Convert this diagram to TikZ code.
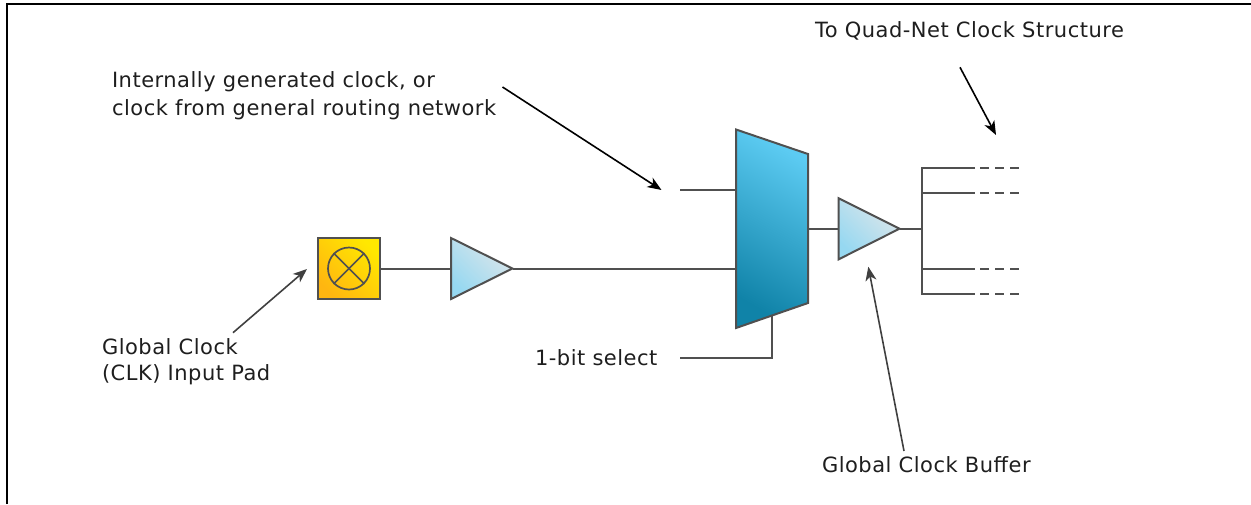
\documentclass[tikz,border=0pt]{standalone}
\usepackage{fontspec}
\setmainfont[LetterSpace=2.4]{DejaVu Sans}
\usetikzlibrary{arrows.meta}
\definecolor{wire}{HTML}{505050}
\definecolor{ink}{HTML}{1E1E1E}
\definecolor{padA}{HTML}{FFB610}
\definecolor{padB}{HTML}{FFE800}
\definecolor{bufA}{HTML}{96D8F1}
\definecolor{bufB}{HTML}{DDE6EA}
\definecolor{muxA}{HTML}{5CCBF2}
\definecolor{muxB}{HTML}{1083A8}
\tikzset{
  x=1pt,y=-1pt,
  wireline/.style={draw=wire,line width=2pt},
  shapeline/.style={draw=wire,line width=2pt,line join=miter},
  stub/.style={draw=wire,line width=2pt,dash pattern=on 9pt off 6pt},
  leader/.style={draw=black,line width=1.6pt,-{Stealth[length=14pt,width=11pt,inset=4pt]}},
  leadergray/.style={draw=wire!80!black,line width=1.6pt,-{Stealth[length=14pt,width=11pt,inset=4pt]}},
  lbl/.style={anchor=base west,inner sep=0pt,outer sep=0pt,text=ink,font=\fontsize{21pt}{26pt}\selectfont},
  bufshade/.style={shade,left color=bufA,right color=bufB,shading angle=135},
  padbox/.style={rectangle,minimum width=62pt,minimum height=61pt,inner sep=0pt,outer sep=0pt,draw=wire,line width=2pt,
    left color=padA,right color=padB,shading angle=135},
}
\begin{document}
\begin{tikzpicture}
\useasboundingbox (0,0) rectangle (1251,504);
% frame
\draw[black,line width=2.2pt] (7,504) -- (7,4) -- (1251,4);
% coordinates
\coordinate (padC) at (349,268.5);
\coordinate (b1L) at (451,268.5);
\coordinate (b1T) at (451,238);
\coordinate (b1B) at (451,299);
\coordinate (b1R) at (512.5,268.5);
\coordinate (mTL) at (736,129.5);
\coordinate (mTR) at (808,154);
\coordinate (mBR) at (808,303);
\coordinate (mBL) at (736,328);
\coordinate (in1) at (736,190);
\coordinate (in1s) at (680,190);
\coordinate (in2) at (736,268.5);
\coordinate (mOut) at (808,228.7);
\coordinate (b2L) at (838.7,228.7);
\coordinate (b2T) at (838.7,198.3);
\coordinate (b2B) at (838.7,259.3);
\coordinate (b2R) at (899.5,228.7);
\coordinate (tree) at (921.5,228.7);
\coordinate (selT) at (771.5,315.5);
\coordinate (selB) at (771.5,358);
\coordinate (selL) at (680,358);
\foreach \n/\y in {a/167.5,b/192.7,c/269,d/294.3}{
  \coordinate (t\n) at (921.5,\y);
  \coordinate (e\n) at (975,\y);
  \coordinate (s\n) at (980,\y);
  \coordinate (f\n) at (1020,\y);
}
% pad
\node[padbox] (pad) at (padC) {};
\node[circle,minimum size=42pt,inner sep=0pt,draw=wire,line width=1.7pt] (padO) at (padC) {};
\draw[wireline,line width=1.7pt] (padO.north west) -- (padO.south east);
\draw[wireline,line width=1.7pt] (padO.north east) -- (padO.south west);
% wires
\draw[wireline] (pad.east) -- (b1L);
\draw[wireline] (b1R) -- (in2);
\draw[wireline] (in1s) -- (in1);
\draw[wireline] (mOut) -- (b2L);
\draw[wireline] (b2R) -- (tree);
\draw[wireline,line join=miter] (selT) -- (selB) -- (selL);
\draw[wireline,line join=miter] (ea) -- (ta) -- (td) -- (ed);
\draw[wireline] (tb) -- (eb);
\draw[wireline] (tc) -- (ec);
\foreach \n in {a,b,c,d}{\draw[stub] (s\n) -- (f\n);}
% buffers
\path[bufshade] (b1T) -- (b1R) -- (b1B) -- cycle;
\draw[shapeline] (b1T) -- (b1R) -- (b1B) -- cycle;
\path[bufshade] (b2T) -- (b2R) -- (b2B) -- cycle;
\draw[shapeline] (b2T) -- (b2R) -- (b2B) -- cycle;
% mux
\path[shade,top color=muxA,bottom color=muxB,shading angle=-30] (mTL) -- (mTR) -- (mBR) -- (mBL) -- cycle;
\draw[shapeline] (mTL) -- (mTR) -- (mBR) -- (mBL) -- cycle;
% labels
\node[lbl] (l1) at (112,87) {Internally generated clock, or};
\node[lbl] (l2) at (112,115) {clock from general routing network};
\node[lbl] (l3) at (815,37) {To Quad-Net Clock Structure};
\node[lbl] (l4) at (102,354) {Global Clock};
\node[lbl] (l5) at (102,380.5) {(CLK) Input Pad};
\node[lbl] (l6) at (535,365) {1-bit select};
\node[lbl] (l7) at (822,472) {Global Clock Buffer};
% leaders
\coordinate (aS) at (502.5,87);
\coordinate (aE) at (661.5,190);
\coordinate (bS) at (960,67.3);
\coordinate (bE) at (996,135);
\coordinate (cS) at (233,332.7);
\coordinate (cE) at (307,269);
\coordinate (dS) at (904,451);
\coordinate (dE) at (868.3,266.7);
\draw[leader] (aS) -- (aE);
\draw[leader] (bS) -- (bE);
\draw[leadergray] (cS) -- (cE);
\draw[leadergray] (dS) -- (dE);
\end{tikzpicture}
\end{document}
